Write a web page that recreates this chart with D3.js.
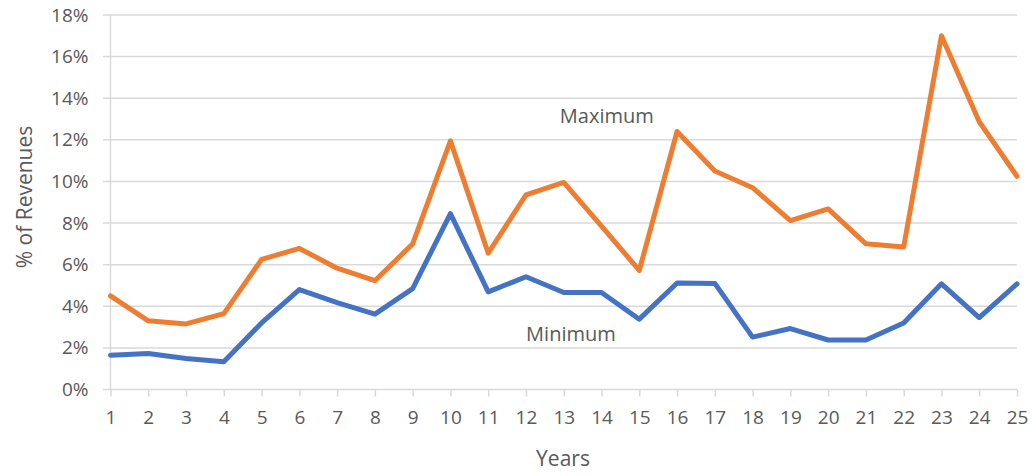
<!DOCTYPE html>
<html lang="en">
<head>
<meta charset="utf-8">
<title>Maximum / Minimum % of Revenues</title>
<script src="https://cdn.jsdelivr.net/npm/d3@7"></script>
<style>
  body { margin: 0; background: #fff; }
  text { font-family: "Open Sans", sans-serif; fill: #595959; }
</style>
</head>
<body>
<script>
// data
var years = d3.range(1, 26);
var maximum = [4.5, 3.3, 3.15, 3.65, 6.25, 6.78, 5.83, 5.23, 7.0, 11.95,
               6.55, 9.35, 9.95, 7.85, 5.72, 12.4, 10.5, 9.7, 8.12, 8.68,
               7.0, 6.85, 17.0, 12.87, 10.25];
var minimum = [1.65, 1.73, 1.49, 1.33, 3.2, 4.8, 4.18, 3.62, 4.85, 8.45,
               4.69, 5.42, 4.66, 4.66, 3.38, 5.12, 5.1, 2.52, 2.93, 2.38,
               2.38, 3.2, 5.08, 3.46, 5.08];
var yTicks = [0, 2, 4, 6, 8, 10, 12, 14, 16, 18];
var seriesLabels = [
  {name: "Maximum", x: 14.14, y: 12.8},
  {name: "Minimum", x: 13.19, y: 2.34}
];

var width = 1033, height = 476;

var svg = d3.select("body").append("svg")
    .attr("width", width)
    .attr("height", height);

var xScale = d3.scaleLinear().domain([1, 25]).range([110.5, 1017]);
var yScale = d3.scaleLinear().domain([0, 18]).range([389.5, 15]);

// horizontal gridlines (they run a little past the axis, like tick marks)
svg.append("g").selectAll("line")
    .data(yTicks)
    .enter().append("line")
    .attr("x1", 103)
    .attr("x2", xScale(25))
    .attr("y1", function(d) { return yScale(d); })
    .attr("y2", function(d) { return yScale(d); })
    .attr("stroke", "#d9d9d9")
    .attr("stroke-width", 1.5);

// y axis line
svg.append("line")
    .attr("x1", xScale(1)).attr("x2", xScale(1))
    .attr("y1", yScale(18)).attr("y2", yScale(0))
    .attr("stroke", "#d9d9d9")
    .attr("stroke-width", 1.5);

// y tick labels
var yAxis = d3.axisLeft(yScale)
    .tickValues(yTicks)
    .tickSize(0)
    .tickPadding(22)
    .tickFormat(function(d) { return d + "%"; });

svg.append("g")
    .attr("transform", "translate(" + xScale(1) + ",0)")
    .call(yAxis)
    .call(function(g) { g.select(".domain").remove(); })
    .selectAll("text")
    .style("font-size", "19px")
    .attr("fill", "#595959");

// x axis
var xAxis = d3.axisBottom(xScale)
    .tickValues(years)
    .tickSize(7)
    .tickPadding(14)
    .tickFormat(d3.format("d"));

var gx = svg.append("g")
    .attr("transform", "translate(0," + yScale(0) + ")")
    .call(xAxis);
gx.select(".domain").remove();
gx.selectAll(".tick line").attr("stroke", "#d9d9d9").attr("stroke-width", 1.5);
gx.selectAll("text").style("font-size", "19px").attr("fill", "#595959");

// lines
var line = d3.line()
    .x(function(d, i) { return xScale(years[i]); })
    .y(function(d) { return yScale(d); });

svg.append("path")
    .datum(maximum)
    .attr("d", line)
    .attr("fill", "none")
    .attr("stroke", "#ED7D31")
    .attr("stroke-width", 5)
    .attr("stroke-linejoin", "round")
    .attr("stroke-linecap", "round");

svg.append("path")
    .datum(minimum)
    .attr("d", line)
    .attr("fill", "none")
    .attr("stroke", "#4472C4")
    .attr("stroke-width", 5)
    .attr("stroke-linejoin", "round")
    .attr("stroke-linecap", "round");

// series labels
svg.append("g").selectAll("text")
    .data(seriesLabels)
    .enter().append("text")
    .attr("x", function(d) { return xScale(d.x); })
    .attr("y", function(d) { return yScale(d.y); })
    .attr("text-anchor", "middle")
    .style("font-size", "20px")
    .attr("fill", "#404040")
    .text(function(d) { return d.name; });

// axis titles
svg.append("text")
    .attr("x", 563)
    .attr("y", 466)
    .attr("text-anchor", "middle")
    .style("font-size", "21px")
    .text("Years");

svg.append("text")
    .attr("transform", "translate(32,197) rotate(-90)")
    .attr("text-anchor", "middle")
    .style("font-size", "21px")
    .text("% of Revenues");
</script>
</body>
</html>
